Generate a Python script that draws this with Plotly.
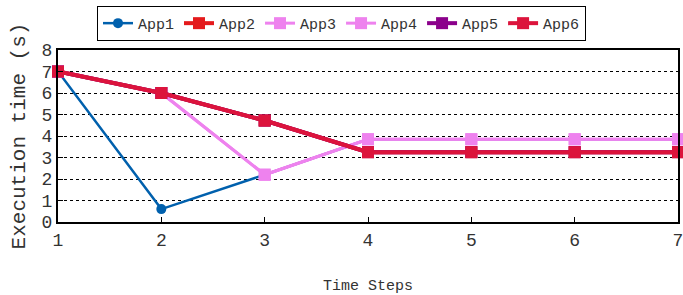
import plotly.graph_objects as go

steps = [1, 2, 3, 4, 5, 6, 7]
app1 = [7.0, 0.6, 2.2, 3.85, 3.85, 3.85, 3.85]
app2 = [7.0, 6.0, 4.72, 3.25, 3.25, 3.25, 3.25]
app3 = [7.0, 6.0, 2.2, 3.85, 3.85, 3.85, 3.85]
app4 = [7.0, 6.0, 2.2, 3.85, 3.85, 3.85, 3.85]
app5 = [7.0, 6.0, 4.72, 3.25, 3.25, 3.25, 3.25]
app6 = [7.0, 6.0, 4.72, 3.25, 3.25, 3.25, 3.25]
names = ["App1", "App2", "App3", "App4", "App5", "App6"]
colors = ["#0060AD", "#E41A1C", "#EE82EE", "#EE82EE", "#8B008B", "#DC143C"]
symbols = ["circle", "square", "square", "square", "square", "square"]
widths = [2.5, 4, 3, 3, 4, 4]

FONT = "Liberation Mono"
fig = go.Figure()
for name, ys, c, s, w in zip(names, [app1, app2, app3, app4, app5, app6], colors, symbols, widths):
    fig.add_trace(go.Scatter(
        x=steps, y=ys, name=name, mode="lines+markers",
        line=dict(color=c, width=w),
        marker=dict(color=c, symbol=s, size=12 if s == "square" else 10),
        cliponaxis=False,
    ))

fig.update_layout(
    width=683, height=295,
    margin=dict(l=58, r=5, t=50, b=73, autoexpand=False),
    plot_bgcolor="white", paper_bgcolor="white",
    font=dict(family=FONT, color="#333333", size=15),
    showlegend=True,
    legend=dict(
        orientation="h", xref="container", yref="container",
        x=0.5, xanchor="center", y=0.98, yanchor="top",
        bordercolor="black", borderwidth=1, bgcolor="white",
        font=dict(family=FONT, size=15, color="#333333"),
        itemwidth=30, tracegroupgap=0,
    ),
    xaxis=dict(
        range=[1, 7], tickvals=steps, ticktext=[str(v) for v in steps],
        showgrid=False, zeroline=False, automargin=False,
        ticklabeloverflow="allow",
        showline=True, linecolor="black", linewidth=2, mirror=True,
        ticks="inside", ticklen=5, tickcolor="black",
        tickfont=dict(family=FONT, size=18, color="#333333"),
        title=dict(text="Time Steps", font=dict(family=FONT, size=15, color="#333333"), standoff=30),
    ),
    yaxis=dict(
        range=[0, 8], tickvals=list(range(0, 9)),
        showgrid=True, gridcolor="black", griddash="dot", gridwidth=1,
        zeroline=False, automargin=False,
        ticklabeloverflow="allow",
        showline=True, linecolor="black", linewidth=2, mirror=True,
        ticks="inside", ticklen=5, tickcolor="black",
        tickfont=dict(family=FONT, size=18, color="#333333"),
        title=dict(text="Execution time (s)", font=dict(family=FONT, size=21, color="#333333"), standoff=10),
    ),
)
fig.write_html("out.html", config={"displayModeBar": False},
               post_script="document.body.style.margin='0';document.body.style.padding='0';")
